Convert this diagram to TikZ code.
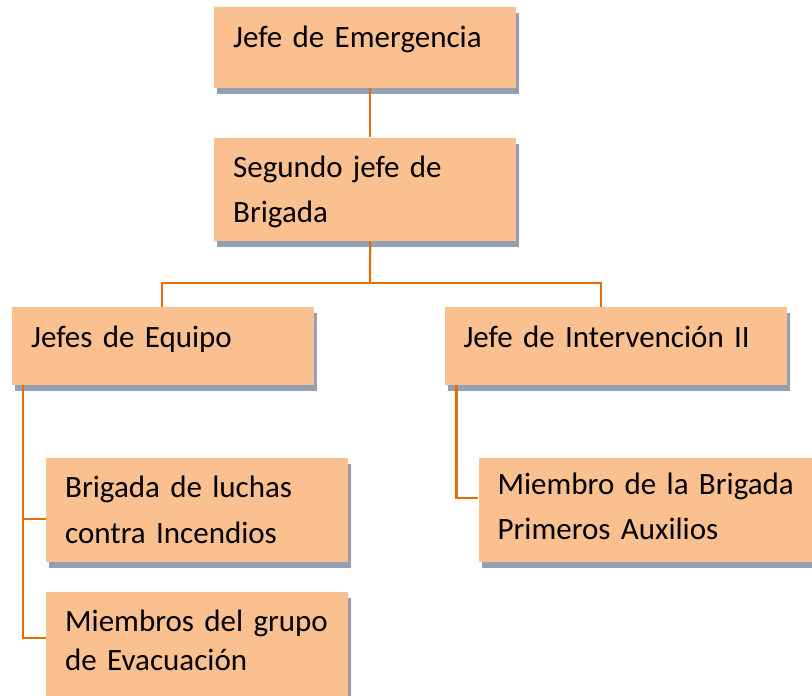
\documentclass[tikz,border=0pt]{standalone}
\usepackage{fontspec}
\setmainfont{Carlito}
\usetikzlibrary{positioning, shadows}
\definecolor{boxfill}{HTML}{FAC090}
\definecolor{boxshade}{HTML}{95A0B3}
\definecolor{linkline}{HTML}{E46C0A}

\begin{document}
\begin{tikzpicture}[x=1pt,y=-1pt,node distance=1cm,
 org box/.style={rectangle, fill=boxfill, anchor=north west,
  drop shadow={shadow xshift=3pt, shadow yshift=-6pt, fill=boxshade, opacity=1},
  inner xsep=19pt, inner ysep=0pt, align=left, text width=264pt,
  font=\fontsize{31}{46}\selectfont, text height=40pt, text depth=#1},
 link/.style={draw=linkline, line width=2.2pt}]
  \useasboundingbox (0,0) rectangle (812,696);

  \node[org box=41pt] (1) at (214,7) {Jefe de Emergencia};
  \node[org box=63pt, font=\fontsize{31}{45}\selectfont] (2) [below=49pt of 1] {Segundo~jefe~de\\Brigada};
  \node[org box=38pt] (3) at (12,307) {Jefes de Equipo};
  \node[org box=38pt, text width=304pt] (4) [right=130pt of 3] {Jefe~de~Intervención~II};
  \node[org box=64pt] (5) at ([shift={(34pt,-72pt)}]3.south west) {Brigada~de~luchas\\contra~Incendios};
  \node[org box=65pt, text height=39pt, font=\fontsize{31}{39}\selectfont] (6) [below=30pt of 5] {Miembros~del~grupo\\de~Evacuación};
  \node[org box=67pt, text height=37pt, text width=298pt, font=\fontsize{31}{45}\selectfont] (7) [right=130pt of 5] {Miembro~de~la~Brigada\\Primeros~Auxilios};

  \coordinate (bus) at (370,283);
  \draw[link] ([xshift=5pt]1.south) -- ([xshift=5pt]2.north);
  \draw[link] ([xshift=5pt]2.south) -- (bus);
  \draw[link] ([xshift=-1pt]3.north) |- (bus) -| ([xshift=-15pt]4.north);
  \foreach \t/\d in {5/-9pt, 6/6pt} {
   \draw[link] ([xshift=11pt]3.south west) |- ([yshift=\d]\t.west);}
  \draw[link] ([xshift=12pt]4.south west) |- ([yshift=12pt]7.west);
\end{tikzpicture}
\end{document}
